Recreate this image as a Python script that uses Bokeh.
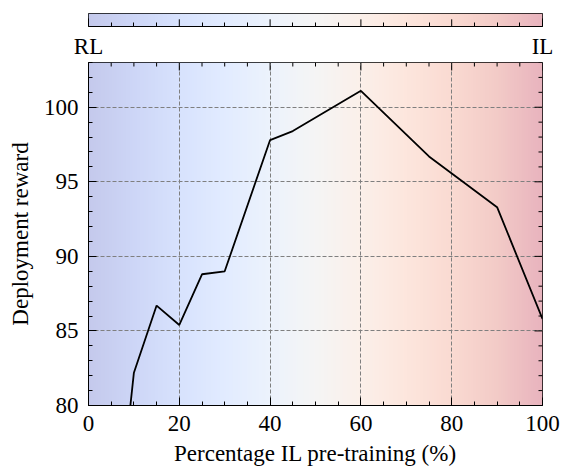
import numpy as np
from bokeh.plotting import figure
from bokeh.layouts import column
from bokeh.models import Range1d, LinearColorMapper, LinearAxis, FixedTicker
from bokeh.embed import file_html
from bokeh.resources import INLINE

# ---- data ----
pct_il = [5, 10, 15, 20, 25, 30, 40, 45, 60, 75, 90, 100]
reward = [68.0, 82.2, 86.7, 85.4, 88.8, 89.0, 97.8, 98.4, 101.1, 96.7, 93.3, 85.8]
x_ticks = [0, 20, 40, 60, 80, 100]
x_minor = [v for v in range(0, 101, 5) if v % 20]
y_ticks = [80, 85, 90, 95, 100]
y_minor = [v for v in range(80, 104) if v % 5]
end_labels = {0: "RL", 100: "IL"}

# coolwarm anchors, faded on white
anchors = ["#3b4cc0", "#5977e3", "#7b9ff9", "#9ebeff", "#c0d4f5", "#dddcdc",
           "#f2cbb7", "#f7ac8e", "#ee8468", "#d65244", "#b40426"]
ALPHA = 0.3


def hex2rgb(h):
    return np.array([int(h[i:i + 2], 16) for i in (1, 3, 5)], float)


A = np.array([hex2rgb(h) for h in anchors])
t = np.linspace(0, 1, 256)
pos = np.linspace(0, 1, len(anchors))
rgb = np.stack([np.interp(t, pos, A[:, k]) for k in range(3)], 1)
rgb = 255 - ALPHA * (255 - rgb)
palette = ["#%02x%02x%02x" % tuple(int(round(v)) for v in c) for c in rgb]
mapper = LinearColorMapper(palette=palette, low=0, high=1)
grad = [np.linspace(0, 1, 256).reshape(1, -1)]

FONT = "Liberation Serif"
FS = "23px"
FW, FH, LB, RB = 454, 343, 88, 18
MAJ, MIN = 8, 4  # tick lengths in px


def style_axis(ax):
    ax.major_tick_in = MAJ
    ax.major_tick_out = 0
    ax.minor_tick_in = MIN
    ax.minor_tick_out = 0
    ax.major_tick_line_color = "black"
    ax.minor_tick_line_color = "black"
    ax.axis_line_color = "black"
    ax.major_label_text_font = FONT
    ax.major_label_text_font_size = FS
    ax.axis_label_text_font = FONT
    ax.axis_label_text_font_style = "normal"
    ax.axis_label_text_font_size = FS
    ax.major_label_text_color = "black"
    ax.axis_label_text_color = "black"


# ---- colour bar strip ----
CBH = 13
top = figure(frame_width=FW, frame_height=CBH, x_range=Range1d(0, 100), y_range=Range1d(0, 1),
             toolbar_location=None, output_backend="svg", min_border_left=LB,
             min_border_right=RB, min_border_top=13, min_border_bottom=0,
             x_axis_location=None, y_axis_location=None)
top.image(image=grad, x=0, y=0, dw=100, dh=1, color_mapper=mapper)
inner = [v for v in x_ticks if v not in end_labels]
top.segment(x0=inner, x1=inner, y0=[0] * len(inner), y1=[MAJ * 0.9 / CBH] * len(inner),
            line_color="black", line_width=1)
top.outline_line_color = "black"
top.outline_line_width = 1
tax = LinearAxis(ticker=FixedTicker(ticks=list(end_labels), minor_ticks=x_minor))
style_axis(tax)
tax.major_label_overrides = end_labels
tax.major_label_standoff = 7
top.add_layout(tax, "below")
top.xgrid.visible = False
top.ygrid.visible = False

# ---- main plot ----
X0, X1, Y0, Y1 = 0, 100, 80, 103
p = figure(frame_width=FW, frame_height=FH, x_range=Range1d(X0, X1), y_range=Range1d(Y0, Y1),
           toolbar_location=None, output_backend="svg", min_border_left=LB,
           min_border_right=RB, min_border_top=1, min_border_bottom=0)
p.image(image=grad, x=X0, y=Y0, dw=X1 - X0, dh=Y1 - Y0, color_mapper=mapper, level="image")

# mirrored ticks on the top and right frame edges
dx = (X1 - X0) / FW
dy = (Y1 - Y0) / FH
for vals, L in ((x_ticks, MAJ), (x_minor, MIN)):
    p.segment(x0=vals, x1=vals, y0=[Y1] * len(vals), y1=[Y1 - L * dy] * len(vals),
              line_color="black", line_width=1)
for vals, L in ((y_ticks, MAJ), (y_minor, MIN)):
    p.segment(x0=[X1] * len(vals), x1=[X1 - L * dx] * len(vals), y0=vals, y1=vals,
              line_color="black", line_width=1)

p.line(pct_il, reward, line_color="black", line_width=1.8)

xt = FixedTicker(ticks=x_ticks, minor_ticks=x_minor)
yt = FixedTicker(ticks=y_ticks, minor_ticks=y_minor)
p.xaxis.ticker = xt
p.yaxis.ticker = yt
p.xaxis.axis_label = "Percentage IL pre-training (%)"
p.yaxis.axis_label = "Deployment reward"
for ax in p.xaxis + p.yaxis:
    style_axis(ax)
p.xaxis.major_label_standoff = 10
p.yaxis.major_label_standoff = 10
p.xaxis.axis_label_standoff = 7
p.yaxis.axis_label_standoff = 8

for g in (p.xgrid, p.ygrid):
    g.grid_line_color = "#7f7f7f"
    g.grid_line_dash = "4 2"
    g.grid_line_width = 1
p.xgrid.ticker = FixedTicker(ticks=x_ticks)
p.ygrid.ticker = FixedTicker(ticks=y_ticks)
p.outline_line_color = "black"
p.outline_line_width = 1
p.background_fill_color = "white"
p.border_fill_color = "white"

layout = column(top, p, spacing=0)
open("out.html", "w").write(file_html(layout, INLINE))
